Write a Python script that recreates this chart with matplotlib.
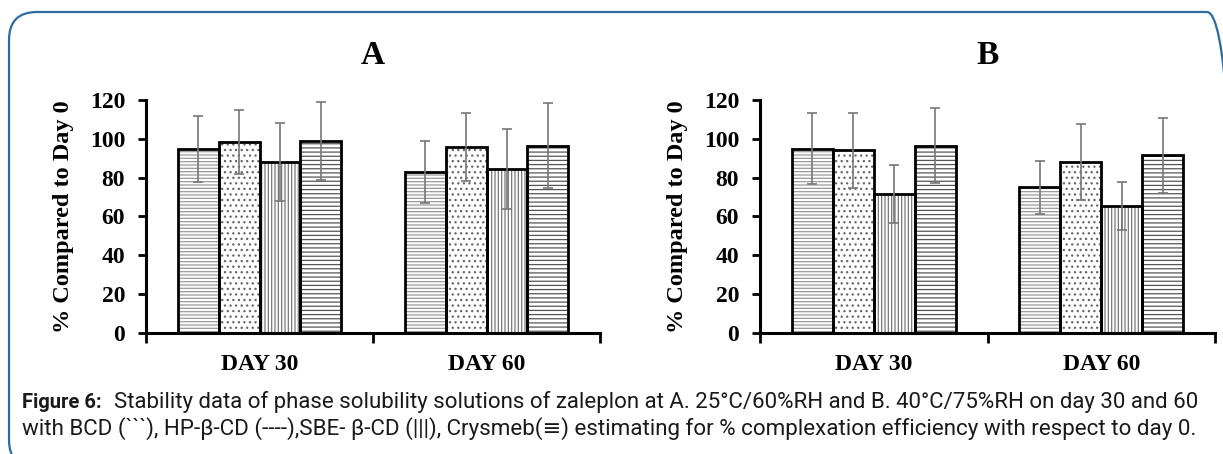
import numpy as np
import matplotlib
matplotlib.use('Agg')
import matplotlib.pyplot as plt
import matplotlib.patches as mpatches
from matplotlib.transforms import IdentityTransform

plt.rcParams['hatch.linewidth'] = 0.9

days = ['DAY 30', 'DAY 60']
carriers = ['BCD', 'HP-β-CD', 'SBE-β-CD', 'Crysmeb']

# panel A : 25°C/60%RH
a_means = {'BCD': [95, 83], 'HP-β-CD': [98.5, 96], 'SBE-β-CD': [88, 84.5], 'Crysmeb': [99, 96.5]}
a_errs = {'BCD': [17, 16], 'HP-β-CD': [16.5, 17.5], 'SBE-β-CD': [20, 20.5], 'Crysmeb': [20, 22]}
# panel B : 40°C/75%RH
b_means = {'BCD': [94.8, 75], 'HP-β-CD': [94.2, 88], 'SBE-β-CD': [71.5, 65.5], 'Crysmeb': [96.5, 91.5]}
b_errs = {'BCD': [18.3, 13.5], 'HP-β-CD': [19.3, 19.5], 'SBE-β-CD': [15, 12.5], 'Crysmeb': [19.3, 19.3]}

hatches = {'BCD': '-----', 'HP-β-CD': '...', 'SBE-β-CD': '|||||', 'Crysmeb': '----'}
hatch_cols = {'BCD': '#9a9a9a', 'HP-β-CD': '#666666', 'SBE-β-CD': '#777777', 'Crysmeb': '#555555'}

serif = 'Liberation Serif'
W, H = 1223, 454
fig = plt.figure(figsize=(W / 100, H / 100), dpi=100)

# rounded frame
frame = mpatches.FancyBboxPatch((9, -14), 1226, 454 - 12 + 14, boxstyle='round,pad=0,rounding_size=28',
                                transform=IdentityTransform(), fill=False, edgecolor='#2b6ca3', linewidth=1.6)
fig.patches.append(frame)


def panel(rect, means, errs, title):
    ax = fig.add_axes(rect)
    x = np.arange(len(days))
    w = 0.18
    for i, c in enumerate(carriers):
        pos = x + (i - 1.5) * w
        ax.bar(pos, means[c], w, color='white', edgecolor=hatch_cols[c], hatch=hatches[c], linewidth=0, zorder=2)
        ax.bar(pos, means[c], w, fill=False, edgecolor='black', linewidth=2.0, zorder=3)
        ax.errorbar(pos, means[c], yerr=errs[c], fmt='none', ecolor='#777777', elinewidth=1.2,
                    capsize=3.6, capthick=1.2, zorder=4)
    ax.set_xlim(-0.5, 1.5)
    ax.set_ylim(0, 120)
    ax.set_yticks(range(0, 121, 20))
    ax.set_xticks(x)
    ax.set_xticklabels(days)
    ax.set_xticks([-0.5, 0.5, 1.5], minor=True)
    ax.tick_params(axis='x', which='major', length=0, pad=15)
    ax.tick_params(axis='x', which='minor', length=7, width=2, direction='out')
    ax.tick_params(axis='y', length=6, width=2, direction='out', pad=9)
    for lab in ax.get_xticklabels() + ax.get_yticklabels():
        lab.set_fontfamily(serif)
        lab.set_fontweight('bold')
        lab.set_fontsize(17)
    for s in ['top', 'right']:
        ax.spines[s].set_visible(False)
    for s in ['left', 'bottom']:
        ax.spines[s].set_linewidth(2.2)
    ax.set_ylabel('% Compared to Day 0', fontfamily=serif, fontweight='bold', fontsize=17.5)
    ax.yaxis.set_label_coords(-0.158, 0.5)
    ax.set_title(title, fontfamily=serif, fontweight='bold', fontsize=24, pad=26)
    return ax


panel([146 / W, 121 / H, 454 / W, 233 / H], a_means, a_errs, 'A')
panel([760 / W, 121 / H, 455 / W, 233 / H], b_means, b_errs, 'B')

cap_font = ['Roboto', 'DejaVu Sans']
line1 = 'Stability data of phase solubility solutions of zaleplon at A. 25°C/60%RH and B. 40°C/75%RH on day 30 and 60'
line2 = 'with BCD (```), HP-β-CD (----),SBE- β-CD (|||), Crysmeb(≡) estimating for % complexation efficiency with respect to day 0.'

renderer = fig.canvas.get_renderer()


def fit_text(x0, y0, s, width, **kw):
    t = fig.text(x0 / W, 1 - y0 / H, s, family=cap_font, fontsize=14, va='center', color='#1a1a1a', **kw)
    ext = t.get_window_extent(renderer)
    t.set_fontsize(14 * width / ext.width)
    return t


lab = fig.text(22 / W, 1 - 402 / H, 'Figure 6:', family=cap_font, fontweight='bold',
               fontsize=14.5, va='center', color='#1a1a1a')
x1 = lab.get_window_extent(renderer).x1 + 12
fit_text(x1, 402, line1, 1204 - x1)
fit_text(22, 429, line2, 1180)

fig.savefig('out.png', dpi=100)
